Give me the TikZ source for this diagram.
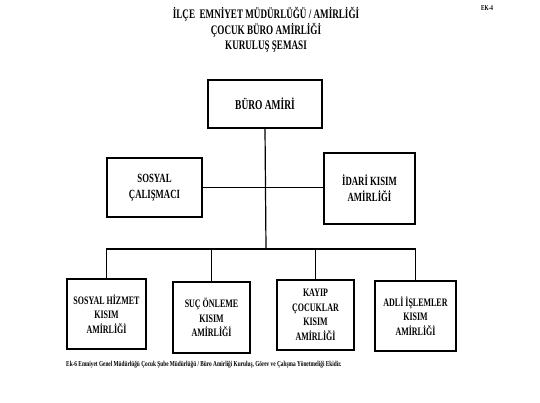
\documentclass[tikz,border=0pt]{standalone}
\usepackage{fontspec}
\setmainfont{Liberation Serif}
\newfontfamily\condfont[FakeStretch=0.7]{Liberation Serif}
\begin{document}
\begin{tikzpicture}[x=1pt,y=-1pt,
  box/.style={draw=black,line width=1.3pt,rectangle,inner sep=0pt,align=center,
    font=\condfont\bfseries\fontsize{11.4}{14.5}\selectfont},
  conn/.style={draw=black,line width=1.2pt},
  ttl/.style={inner sep=0pt,align=center,font=\condfont\bfseries\fontsize{13}{15.5}\selectfont}]
\useasboundingbox (0,0) rectangle (540,402);
\fill[white] (0,0) rectangle (540,402);
% titles
\node[ttl] (title) at (266,30) {İLÇE\ \ EMNİYET MÜDÜRLÜĞÜ / AMİRLİĞİ\\ÇOCUK BÜRO AMİRLİĞİ\\KURULUŞ ŞEMASI};
\node[inner sep=0pt,font=\condfont\bfseries\fontsize{7.5}{8}\selectfont] (ek) at (487,8) {EK-4};
% boxes
\node[box,minimum width=114pt,minimum height=48pt,font=\condfont\bfseries\fontsize{13.5}{15}\selectfont] (buro) at (265,104) {BÜRO AMİRİ};
\node[box,minimum width=95pt,minimum height=59pt,font=\condfont\bfseries\fontsize{12.5}{16}\selectfont] (sosyal) at (154.5,187.5) {SOSYAL\\ÇALIŞMACI};
\node[box,minimum width=91pt,minimum height=71pt,font=\condfont\bfseries\fontsize{12.5}{16}\selectfont] (idari) at (369.5,188.5) {İDARİ KISIM\\AMİRLİĞİ};
\node[box,minimum width=79pt,minimum height=70pt] (b1) at (106.5,314) {SOSYAL HİZMET\\KISIM\\AMİRLİĞİ};
\node[box,minimum width=77pt,minimum height=71pt] (b2) at (211.5,317.5) {SUÇ ÖNLEME\\KISIM\\AMİRLİĞİ};
\node[box,minimum width=77pt,minimum height=70pt] (b3) at (315.5,315) {KAYIP\\ÇOCUKLAR\\KISIM\\AMİRLİĞİ};
\node[box,minimum width=81pt,minimum height=70pt] (b4) at (415.5,316) {ADLİ İŞLEMLER\\KISIM\\AMİRLİĞİ};
% connectors
\coordinate (bar) at (266,249);
\draw[conn] (buro.south) -- (bar);
\draw[conn] (sosyal.east) -- (sosyal.east -| idari.west);
\draw[conn] (b1.north) |- (bar) -| (b4.north);
\draw[conn] (b2.north) -- (b2.north |- bar);
\draw[conn] (b3.north) -- (b3.north |- bar);
% footer
\node[anchor=west,inner sep=0pt,font=\condfont\bfseries\fontsize{7.6}{8}\selectfont] (foot) at (66,365) {Ek-6 Emniyet Genel Müdürlüğü Çocuk Şube Müdürlüğü / Büro Amirliği Kuruluş, Görev ve Çalışma Yönetmeliği Ekidir.};
\end{tikzpicture}
\end{document}
